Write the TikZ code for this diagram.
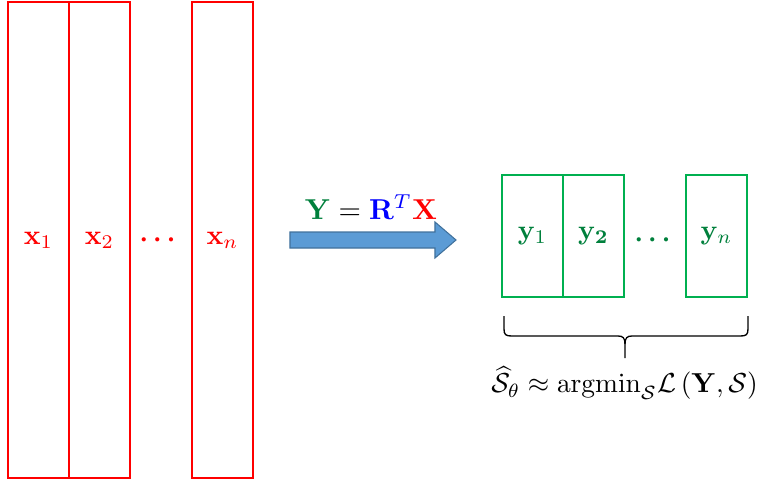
\documentclass[tikz,border=0pt]{standalone}
\usepackage{amsmath,amssymb,graphicx}
\definecolor{boxgreen}{RGB}{0,176,80}
\definecolor{txtgreen}{RGB}{0,128,60}
\definecolor{arrowfill}{RGB}{91,155,213}
\definecolor{arrowline}{RGB}{65,113,156}
\begin{document}
\begin{tikzpicture}[x={(0.375pt,0)},y={(0,-0.375pt)},
  redbox/.style={draw=red,line width=0.55pt,minimum width=22.875pt,minimum height=178.5pt,inner sep=0pt,text=red},
  greenbox/.style={draw=boxgreen,line width=0.55pt,minimum width=22.875pt,minimum height=45.75pt,inner sep=0pt,text=txtgreen},
  blockarrow/.style={fill=arrowfill,draw=arrowline,line width=0.4pt,line join=miter}]
\useasboundingbox (0,0) rectangle (760,483);
% red boxes
\node[redbox] (x1) at (38.5,240) {\scalebox{1.04}{$\mathbf{x}_1$}};
\node[redbox] (x2) at (99.5,240) {\scalebox{1.04}{$\mathbf{x}_2$}};
\node[text=red] (xdots) at (160,240) {$\boldsymbol{\cdots}$};
\node[redbox] (xn) at (222.5,240) {\scalebox{1.04}{$\mathbf{x}_n$}};
% arrow
\draw[blockarrow] (290,232) coordinate (a0) -- (435,232) -- (435,222) -- (456,240) -- (435,258) -- (435,248) -- (290,248) -- cycle;
\node (eq) at (371,207) {\scalebox{1.08}{$\color{txtgreen}\mathbf{Y}\color{black}=\color{blue}\mathbf{R}^{T}\color{red}\mathbf{X}$}};
% green boxes
\node[greenbox] (y1) at (532.5,236) {\scalebox{1.04}{$\mathbf{y}_1$}};
\node[greenbox] (y2) at (593.5,236) {\scalebox{1.04}{$\mathbf{y}_{\mathbf{2}}$}};
\node[text=txtgreen] (ydots) at (655,240) {$\boldsymbol{\cdots}$};
\node[greenbox] (yn) at (716.5,236) {\scalebox{1.04}{$\mathbf{y}_n$}};
% brace
\draw[line width=0.5pt] (504,316) -- (504,329) .. controls (504,335) and (506,336) .. (512,336) -- (618,336) .. controls (623,336) and (625,338) .. (625,344) -- (625,358);
\draw[line width=0.5pt] (748,316) -- (748,329) .. controls (748,335) and (746,336) .. (740,336) -- (632,336) .. controls (627,336) and (625,338) .. (625,344);
\node (loss) at (624.5,383) {\scalebox{1.03}{$\widehat{\mathcal{S}}_{\theta}\approx\mathrm{argmin}_{\mathcal{S}}\mathcal{L}\left(\mathbf{Y},\mathcal{S}\right)$}};
\end{tikzpicture}
\end{document}
